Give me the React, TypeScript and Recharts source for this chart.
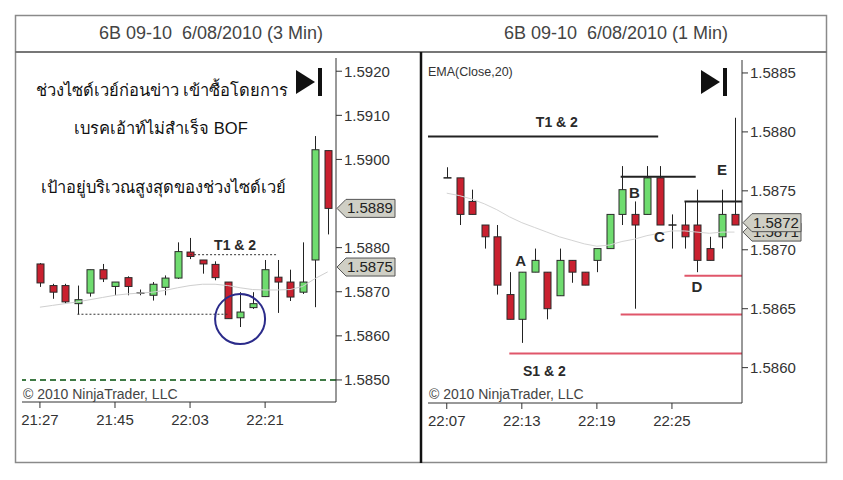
import React from 'react';
import { ComposedChart, Bar, Line, XAxis, YAxis, ReferenceLine, ReferenceDot } from 'recharts';

// ---- left panel: 6B 09-10 (3 Min) ----
const leftTimes = ['21:27', '21:30', '21:33', '21:36', '21:39', '21:42', '21:45', '21:48', '21:51', '21:54', '21:57', '22:00',
  '22:03', '22:06', '22:09', '22:12', '22:15', '22:18', '22:21', '22:24', '22:27', '22:30', '22:33', '22:36'];
const leftOpen = [1.58763, 1.58714, 1.58714, 1.58673, 1.58697, 1.5875, 1.58712, 1.58732, 1.58697, 1.58692, 1.5871, 1.58731,
  1.5879, 1.58772, 1.58762, 1.58722, 1.58641, 1.58664, 1.58689, 1.58733, 1.58722, 1.58699, 1.58772, 1.5902];
const leftHigh = [1.58765, 1.58718, 1.58718, 1.58714, 1.5875, 1.58763, 1.58722, 1.58735, 1.58705, 1.58722, 1.58737, 1.58812,
  1.58822, 1.58772, 1.58769, 1.58722, 1.58699, 1.58699, 1.58772, 1.58772, 1.5875, 1.58812, 1.59053, 1.5902];
const leftLow = [1.58711, 1.58684, 1.58673, 1.58649, 1.58689, 1.58722, 1.58692, 1.58692, 1.58692, 1.5868, 1.58692, 1.58729,
  1.58774, 1.58741, 1.58726, 1.58639, 1.5862, 1.58661, 1.58688, 1.58652, 1.58679, 1.58695, 1.58665, 1.5883];
const leftClose = [1.5872, 1.58699, 1.58677, 1.58682, 1.5875, 1.58729, 1.58722, 1.58712, 1.58694, 1.58717, 1.58731, 1.58791,
  1.5878, 1.58763, 1.58732, 1.58639, 1.58654, 1.58673, 1.5875, 1.58722, 1.58688, 1.58722, 1.59022, 1.58889];
const leftEma = [1.58665, 1.58669, 1.58673, 1.58677, 1.58682, 1.58687, 1.58692, 1.58695, 1.58697, 1.58699, 1.58703, 1.58709,
  1.58714, 1.58717, 1.58717, 1.58714, 1.58709, 1.58705, 1.58704, 1.58704, 1.58705, 1.58712, 1.5873, 1.58745];
const leftXTicks = ['21:27', '21:45', '22:03', '22:21'];
// 1.5890 sits under the last-price tag in the original, so it is not listed
const leftYTicks = [1.585, 1.586, 1.587, 1.588, 1.59, 1.591, 1.592];

// ---- right panel: 6B 09-10 (1 Min) ----
const rightTimes = ['22:07', '22:08', '22:09', '22:10', '22:11', '22:12', '22:13', '22:14', '22:15', '22:16', '22:17', '22:18',
  '22:19', '22:20', '22:21', '22:22', '22:23', '22:24', '22:25', '22:26', '22:27', '22:28', '22:29', '22:30'];
const rightOpen = [1.58761, 1.58761, 1.58741, 1.58721, 1.58711, 1.58662, 1.58641, 1.58681, 1.58681, 1.58661, 1.58691, 1.58681,
  1.58691, 1.58701, 1.5873, 1.5873, 1.5873, 1.58761, 1.58721, 1.58721, 1.58721, 1.58701, 1.58711, 1.5873];
const rightHigh = [1.5877, 1.58761, 1.58751, 1.58721, 1.58721, 1.58681, 1.58681, 1.58701, 1.58681, 1.58701, 1.58691, 1.58681,
  1.58701, 1.5873, 1.58771, 1.58741, 1.58771, 1.58771, 1.5873, 1.58741, 1.58751, 1.58711, 1.58751, 1.58812];
const rightLow = [1.58761, 1.58721, 1.5873, 1.58701, 1.58662, 1.58641, 1.58621, 1.58681, 1.58641, 1.58661, 1.58672, 1.5867,
  1.58681, 1.58701, 1.58721, 1.5865, 1.5873, 1.58721, 1.58701, 1.58701, 1.58681, 1.58691, 1.58701, 1.58721];
const rightClose = [1.58761, 1.5873, 1.5873, 1.58711, 1.5867, 1.58641, 1.58681, 1.58691, 1.5865, 1.58691, 1.58681, 1.5867,
  1.58701, 1.5873, 1.58751, 1.58721, 1.58761, 1.58721, 1.58721, 1.58711, 1.58691, 1.58691, 1.5873, 1.58721];
const rightEma = [1.58748, 1.58746, 1.58743, 1.58739, 1.58734, 1.58728, 1.58723, 1.58719, 1.58715, 1.58711, 1.58708, 1.58705,
  1.58703, 1.58704, 1.58707, 1.58709, 1.58712, 1.58714, 1.58716, 1.58716, 1.58715, 1.58714, 1.58715, 1.58715];
const rightXTicks = ['22:07', '22:13', '22:19', '22:25'];
const rightYTicks = [1.586, 1.5865, 1.587, 1.5875, 1.588, 1.5885];

const toMin = (s: string) => {
  const [h, m] = s.split(':').map(Number);
  return h * 60 + m;
};
const fmtMin = (v: number) => {
  const h = Math.floor(v / 60);
  const m = Math.round(v - h * 60);
  return `${h}:${m < 10 ? '0' : ''}${m}`;
};

const build = (times: string[], o: number[], h: number[], l: number[], c: number[], e: number[]) =>
  times.map((t, i) => ({ t: toMin(t), open: o[i], high: h[i], low: l[i], close: c[i], ema: e[i] }));

const leftData = build(leftTimes, leftOpen, leftHigh, leftLow, leftClose, leftEma);
const rightData = build(rightTimes, rightOpen, rightHigh, rightLow, rightClose, rightEma);

const GREEN = '#6fdc6f';
const RED = '#c9202f';
const INK = '#333';
const FONT = "'Liberation Sans', Arial, 'DejaVu Sans', sans-serif";

// candle drawn inside the [low, high] range bar
const Candle = (props: any) => {
  const { x, y, width, height, payload } = props;
  if (!payload || x == null) return null;
  const { open, close, high, low } = payload;
  const top = Math.min(y, y + height);
  const bot = Math.max(y, y + height);
  const span = high - low;
  const py = (v: number) => (span === 0 ? top : top + ((high - v) / span) * (bot - top));
  const cx = Math.round(x + width / 2) + 0.5;
  const bTop = py(Math.max(open, close));
  const bBot = py(Math.min(open, close));
  const up = close > open;
  return (
    <g>
      <line x1={cx} x2={cx} y1={top} y2={bot} stroke="#222" strokeWidth={1} />
      {bBot - bTop < 1.5 ? (
        <line x1={cx - 4} x2={cx + 4} y1={bTop} y2={bTop} stroke="#222" strokeWidth={1.5} />
      ) : (
        <rect x={cx - 3.5} y={bTop} width={7} height={bBot - bTop} fill={up ? GREEN : RED} stroke="#2a2a2a" strokeWidth={1} />
      )}
    </g>
  );
};

const PriceTag = ({ cx, cy, text }: any) => {
  const x0 = cx + 1;
  return (
    <g>
      <polygon
        points={`${x0},${cy} ${x0 + 9},${cy - 9} ${x0 + 58},${cy - 9} ${x0 + 58},${cy + 9} ${x0 + 9},${cy + 9}`}
        fill="#cfcfc5"
        stroke="#555"
        strokeWidth={1}
      />
      <text x={x0 + 10} y={cy + 5} fontSize={15} fontFamily={FONT} fill="#222">{text}</text>
    </g>
  );
};

const Note = ({ cx, cy, text, size = 14 }: any) => (
  <text x={cx} y={cy} textAnchor="middle" dominantBaseline="central" fontSize={size} fontWeight="bold" fontFamily={FONT} fill="#2a2a2a">
    {text}
  </text>
);

const axisTick = { fill: INK, fontSize: 15, fontFamily: FONT };

function LeftChart() {
  const xMin = 1282.7;
  const xMax = 1358.0;
  return (
    <ComposedChart width={421} height={480} data={leftData} margin={{ top: 58, left: 22, right: 25, bottom: 48 }}>
      <XAxis type="number" dataKey="t" domain={[xMin, xMax]} allowDataOverflow ticks={leftXTicks.map(toMin)} interval={0}
        tickFormatter={fmtMin} stroke={INK} tick={axisTick} tickSize={6} tickMargin={6} />
      <YAxis orientation="right" domain={[1.5845, 1.5923]} allowDataOverflow ticks={leftYTicks} interval={0}
        tickFormatter={(v: number) => v.toFixed(4)} stroke={INK} tick={axisTick} tickSize={6} tickMargin={2} width={60} />
      <ReferenceLine y={1.585} stroke="#3f7a45" strokeWidth={2} strokeDasharray="6 4" />
      <Line dataKey="ema" stroke="#cfcfcf" strokeWidth={1} dot={false} isAnimationActive={false} />
      <ReferenceLine segment={[{ x: toMin('22:03'), y: 1.58784 }, { x: toMin('22:24'), y: 1.58784 }]} stroke="#333" strokeDasharray="2 2" />
      <ReferenceLine segment={[{ x: toMin('21:36'), y: 1.58649 }, { x: toMin('22:12'), y: 1.58649 }]} stroke="#333" strokeDasharray="2 2" />
      <Bar dataKey={(d: any) => [d.low, d.high]} barSize={7} shape={Candle} isAnimationActive={false} />
      <ReferenceDot x={1335} y={1.58638} r={25} fill="none" stroke="#2b2b8a" strokeWidth={2} />
      <ReferenceDot x={1333.8} y={1.58806} shape={(p: any) => <Note {...p} text="T1 & 2" />} />
      <ReferenceDot x={xMax} y={1.58756} ifOverflow="visible" shape={(p: any) => <PriceTag {...p} text="1.5875" />} />
      <ReferenceDot x={xMax} y={1.58889} ifOverflow="visible" shape={(p: any) => <PriceTag {...p} text="1.5889" />} />
    </ComposedChart>
  );
}

function RightChart() {
  const xMin = 1325.5;
  const xMax = 1350.6;
  const red = '#e0566a';
  return (
    <ComposedChart width={422} height={480} data={rightData} margin={{ top: 60, left: 7, right: 41, bottom: 47 }}>
      <XAxis type="number" dataKey="t" domain={[xMin, xMax]} allowDataOverflow ticks={rightXTicks.map(toMin)} interval={0}
        tickFormatter={fmtMin} stroke={INK} tick={axisTick} tickSize={6} tickMargin={6} />
      <YAxis orientation="right" domain={[1.5857, 1.58861]} allowDataOverflow ticks={rightYTicks} interval={0}
        tickFormatter={(v: number) => v.toFixed(4)} stroke={INK} tick={axisTick} tickSize={6} tickMargin={2} width={60} />
      <Line dataKey="ema" stroke="#d4d4d4" strokeWidth={1} dot={false} isAnimationActive={false} />
      <ReferenceLine segment={[{ x: xMin, y: 1.58796 }, { x: 1343.9, y: 1.58796 }]} stroke="#222" strokeWidth={2} />
      <ReferenceLine segment={[{ x: 1340.9, y: 1.58762 }, { x: 1346.9, y: 1.58762 }]} stroke="#222" strokeWidth={2} />
      <ReferenceLine segment={[{ x: 1346, y: 1.58741 }, { x: xMax, y: 1.58741 }]} stroke="#222" strokeWidth={2} />
      <ReferenceLine segment={[{ x: 1346, y: 1.58678 }, { x: xMax, y: 1.58678 }]} stroke={red} strokeWidth={2} />
      <ReferenceLine segment={[{ x: 1340.9, y: 1.58645 }, { x: xMax, y: 1.58645 }]} stroke={red} strokeWidth={2} />
      <ReferenceLine segment={[{ x: 1332, y: 1.58612 }, { x: xMax, y: 1.58612 }]} stroke={red} strokeWidth={2} />
      <Bar dataKey={(d: any) => [d.low, d.high]} barSize={7} shape={Candle} isAnimationActive={false} />
      <ReferenceDot x={1335.8} y={1.58808} shape={(p: any) => <Note {...p} text="T1 & 2" />} />
      <ReferenceDot x={1334.8} y={1.58597} shape={(p: any) => <Note {...p} text="S1 & 2" />} />
      <ReferenceDot x={1332.9} y={1.58691} shape={(p: any) => <Note {...p} text="A" size={15} />} />
      <ReferenceDot x={1342} y={1.58749} shape={(p: any) => <Note {...p} text="B" size={15} />} />
      <ReferenceDot x={1344} y={1.58711} shape={(p: any) => <Note {...p} text="C" size={15} />} />
      <ReferenceDot x={1347} y={1.58669} shape={(p: any) => <Note {...p} text="D" size={15} />} />
      <ReferenceDot x={1349} y={1.58768} shape={(p: any) => <Note {...p} text="E" size={15} />} />
      <ReferenceDot x={xMax} y={1.58715} ifOverflow="visible" shape={(p: any) => <PriceTag {...p} text="1.5871" />} />
      <ReferenceDot x={xMax} y={1.58723} ifOverflow="visible" shape={(p: any) => <PriceTag {...p} text="1.5872" />} />
    </ComposedChart>
  );
}

const PlayIcon = ({ x, y }: { x: number; y: number }) => (
  <g>
    <polygon points={`${x},${y + 2} ${x},${y + 26} ${x + 19},${y + 14}`} fill="#111" />
    <rect x={x + 22} y={y} width={4} height={28} fill="#111" />
  </g>
);

const pre = { whiteSpace: 'pre' as const };

export default function App() {
  return (
    <div style={{ position: 'absolute', left: 0, top: 0, width: 843, height: 480, background: '#fff', fontFamily: FONT }}>
      <div style={{ position: 'absolute', left: 0, top: 0 }}>
        <LeftChart />
      </div>
      <div style={{ position: 'absolute', left: 421, top: 0 }}>
        <RightChart />
      </div>
      <svg width={843} height={480} style={{ position: 'absolute', left: 0, top: 0, pointerEvents: 'none' }}>
        <rect x={15.5} y={15.5} width={811} height={447} fill="none" stroke="#8a8a8a" strokeWidth={1.5} />
        <line x1={15} x2={827} y1={52} y2={52} stroke="#777" strokeWidth={2} />
        <line x1={421} x2={421} y1={52} y2={463} stroke="#111" strokeWidth={2.5} />
        <text x={211} y={39} textAnchor="middle" fontSize={18} fill="#444" fontFamily={FONT} style={pre}>6B 09-10  6/08/2010 (3 Min)</text>
        <text x={616} y={39} textAnchor="middle" fontSize={18} fill="#444" fontFamily={FONT} style={pre}>6B 09-10  6/08/2010 (1 Min)</text>
        <PlayIcon x={296} y={68} />
        <PlayIcon x={701} y={68} />
        <text x={428} y={76} fontSize={12.5} fill="#333" fontFamily={FONT}>EMA(Close,20)</text>
        <text x={162} y={96} textAnchor="middle" fontSize={16.5} fill="#111" fontFamily={FONT}>ช่วงไซด์เวย์ก่อนข่าว เข้าซื้อโดยการ</text>
        <text x={161} y={134} textAnchor="middle" fontSize={16.5} fill="#111" fontFamily={FONT}>เบรคเอ้าท์ไม่สำเร็จ BOF</text>
        <text x={163} y={193} textAnchor="middle" fontSize={16.5} fill="#111" fontFamily={FONT}>เป้าอยู่บริเวณสูงสุดของช่วงไซด์เวย์</text>
        <text x={23} y={399} fontSize={14} fill="#444" fontFamily={FONT}>© 2010 NinjaTrader, LLC</text>
        <text x={429} y={399} fontSize={14} fill="#444" fontFamily={FONT}>© 2010 NinjaTrader, LLC</text>
      </svg>
    </div>
  );
}
